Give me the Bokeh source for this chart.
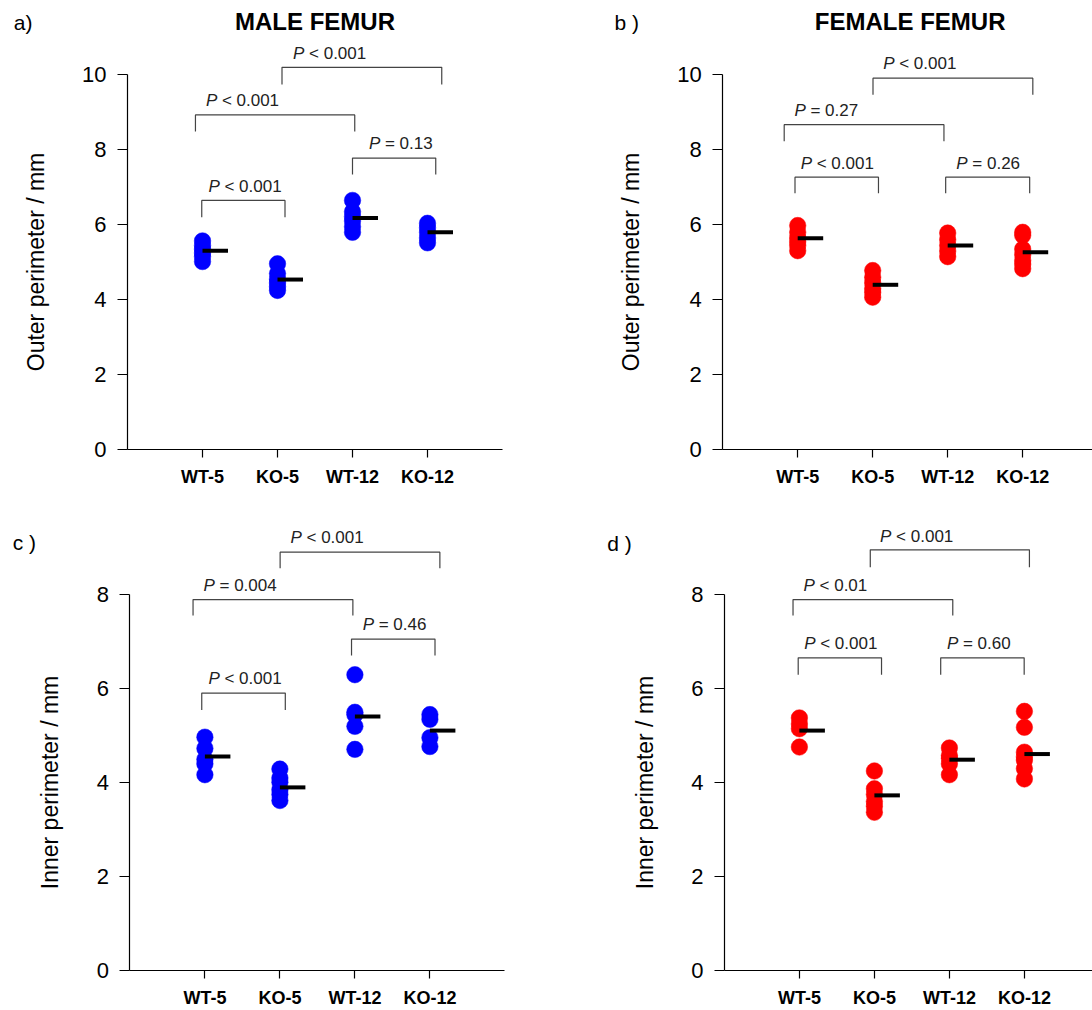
from bokeh.plotting import figure
from bokeh.models import Range1d, FixedTicker
from bokeh.layouts import column, row
from bokeh.core.properties import value
from bokeh.embed import file_html
from bokeh.resources import INLINE

categories = ["WT-5", "KO-5", "WT-12", "KO-12"]
cat_pos = [1, 2, 3, 4]

# ---- a) male femur, outer perimeter (mm)
male_outer_wt5 = [5.02, 5.15, 5.25, 5.35, 5.45, 5.57]
male_outer_ko5 = [4.25, 4.35, 4.45, 4.55, 4.70, 4.96]
male_outer_wt12 = [5.80, 5.95, 6.10, 6.22, 6.35, 6.65]
male_outer_ko12 = [5.52, 5.65, 5.80, 5.92, 6.04]
male_outer_mean = [5.31, 4.54, 6.18, 5.80]

# ---- b) female femur, outer perimeter (mm)
female_outer_wt5 = [5.31, 5.45, 5.55, 5.65, 5.80, 5.98]
female_outer_ko5 = [4.07, 4.20, 4.30, 4.45, 4.60, 4.78]
female_outer_wt12 = [5.15, 5.30, 5.45, 5.60, 5.78]
female_outer_ko12 = [4.83, 4.95, 5.05, 5.20, 5.35, 5.72, 5.80]
female_outer_mean = [5.64, 4.40, 5.45, 5.27]

# ---- c) male femur, inner perimeter (mm)
male_inner_wt5 = [4.17, 4.40, 4.50, 4.73, 4.97]
male_inner_ko5 = [3.62, 3.75, 3.85, 4.01, 4.10, 4.29]
male_inner_wt12 = [4.71, 5.20, 5.45, 5.50, 6.30]
male_inner_ko12 = [4.77, 4.96, 5.35, 5.45]
male_inner_mean = [4.56, 3.90, 5.41, 5.11]

# ---- d) female femur, inner perimeter (mm)
female_inner_wt5 = [4.76, 5.15, 5.25, 5.38]
female_inner_ko5 = [3.37, 3.50, 3.60, 3.75, 3.87, 4.25]
female_inner_wt12 = [4.17, 4.40, 4.52, 4.58, 4.74]
female_inner_ko12 = [4.08, 4.30, 4.48, 4.55, 4.65, 5.18, 5.52]
female_inner_mean = [5.11, 3.73, 4.49, 4.61]

# ---- comparison brackets: (x left, x right, y top, y bottom)
a_brackets = [(2.06, 4.19, 10.20, 9.74), (0.906, 3.03, 8.93, 8.49),
              (3.00, 4.11, 7.78, 7.34), (0.99, 2.10, 6.65, 6.20)]
a_pvalues = ["< 0.001", "< 0.001", "= 0.13", "< 0.001"]
a_ptext_xy = [(2.207, 10.56), (1.045, 9.31), (3.219, 8.16), (1.079, 7.02)]

b_brackets = [(2.004, 4.135, 9.91, 9.47), (0.82, 2.95, 8.67, 8.23),
              (0.964, 2.077, 7.27, 6.84), (2.973, 4.093, 7.27, 6.84)]
b_pvalues = ["< 0.001", "= 0.27", "< 0.001", "= 0.26"]
b_ptext_xy = [(2.14, 10.29), (0.956, 9.05), (1.04, 7.64), (3.115, 7.64)]

c_brackets = [(2.003, 4.133, 8.91, 8.57), (0.842, 2.973, 7.90, 7.56),
              (2.955, 4.068, 7.06, 6.71), (0.958, 2.072, 5.91, 5.55)]
c_pvalues = ["< 0.001", "= 0.004", "= 0.46", "< 0.001"]
c_ptext_xy = [(2.141, 9.22), (0.981, 8.21), (3.103, 7.37), (1.047, 6.21)]

d_brackets = [(1.945, 4.067, 8.96, 8.59), (0.915, 3.045, 7.90, 7.56),
              (0.984, 2.095, 6.66, 6.30), (2.884, 3.997, 6.66, 6.30)]
d_pvalues = ["< 0.001", "< 0.01", "< 0.001", "= 0.60"]
d_ptext_xy = [(2.076, 9.25), (1.055, 8.20), (1.064, 6.97), (2.967, 6.97)]

FONT = "Liberation Sans"
PX_PER_CAT = 75.0


def panel(groups, means, brackets, pvalues, ptext_xy, color, ylabel, yaxis_max,
          yticks, left_px, bottom_px, W, H, px_per_unit, title, title_y,
          tag, tag_xy):
    # the frame covers the whole figure; axes sit at fixed data locations
    x0 = -left_px / PX_PER_CAT
    x1 = (W - left_px) / PX_PER_CAT
    y0 = -(H - bottom_px) / px_per_unit
    y1 = bottom_px / px_per_unit
    p = figure(width=W, height=H,
               x_range=Range1d(x0, x1), y_range=Range1d(y0, y1),
               min_border_left=0, min_border_right=0,
               min_border_top=0, min_border_bottom=0,
               output_backend="svg", toolbar_location=None, title=None)
    p.outline_line_color = None
    p.grid.visible = False
    p.background_fill_color = "white"
    p.border_fill_color = "white"

    # axes
    p.xaxis.fixed_location = 0
    p.yaxis.fixed_location = 0
    p.xaxis.bounds = (0, min(5, x1))
    p.xaxis.ticker = FixedTicker(ticks=cat_pos)
    p.xaxis.major_label_overrides = {c: n for c, n in zip(cat_pos, categories)}
    p.xaxis.major_tick_out = 8
    p.xaxis.major_tick_in = 0
    p.xaxis.minor_tick_out = 0
    p.xaxis.major_label_standoff = 9
    p.xaxis.major_label_text_font = FONT
    p.xaxis.major_label_text_font_size = "18px"
    p.xaxis.major_label_text_font_style = "bold"
    p.xaxis.major_label_text_color = "black"

    p.yaxis.ticker = FixedTicker(ticks=yticks)
    p.yaxis.bounds = (0, yaxis_max)
    p.yaxis.major_tick_out = 10
    p.yaxis.major_tick_in = 0
    p.yaxis.minor_tick_out = 0
    p.yaxis.major_label_standoff = 11
    p.yaxis.major_label_text_font = FONT
    p.yaxis.major_label_text_font_size = "22px"
    p.yaxis.major_label_text_color = "black"
    p.yaxis.axis_label = ylabel
    p.yaxis.axis_label_text_font = FONT
    p.yaxis.axis_label_text_font_size = "23px"
    p.yaxis.axis_label_text_font_style = "normal"
    p.yaxis.axis_label_text_color = "black"
    p.yaxis.axis_label_standoff = 30
    for ax in (p.xaxis, p.yaxis):
        ax.axis_line_color = "black"
        ax.axis_line_width = 1.2
        ax.major_tick_line_color = "black"
        ax.major_tick_line_width = 1.2

    # points
    xs, ys = [], []
    for c, vals in zip(cat_pos, groups):
        xs += [c] * len(vals)
        ys += list(vals)
    p.scatter(xs, ys, marker="circle", size=16.5, fill_color=color,
              line_color=color, line_width=0.5)

    # mean bars
    p.segment(x0=cat_pos, y0=means, x1=[c + 0.34 for c in cat_pos], y1=means,
              line_color="black", line_width=4, line_cap="butt")

    # brackets
    bx = [[b[0], b[0], b[1], b[1]] for b in brackets]
    by = [[b[3], b[2], b[2], b[3]] for b in brackets]
    p.multi_line(bx, by, line_color="#444444", line_width=1.2)

    tx = [t[0] for t in ptext_xy]
    ty = [t[1] for t in ptext_xy]
    p.text(x=tx, y=ty, text=["P"] * len(tx), text_font=value(FONT),
           text_font_style="italic", text_font_size="17px",
           text_align="left", text_baseline="middle", text_color="#222222")
    p.text(x=tx, y=ty, text=pvalues, x_offset=16, text_font=value(FONT),
           text_font_size="17px", text_align="left", text_baseline="middle",
           text_color="#222222")

    # panel title and tag
    if title is not None:
        p.text(x=[2.5], y=[title_y], text=[title], text_font=value(FONT),
               text_font_style="bold", text_font_size="24px",
               text_align="center", text_baseline="middle", text_color="black")
    p.text(x=[tag_xy[0]], y=[tag_xy[1]], text=[tag], text_font=value(FONT),
           text_font_size="21px", text_align="left", text_baseline="middle",
           text_color="black")
    return p


pa = panel([male_outer_wt5, male_outer_ko5, male_outer_wt12, male_outer_ko12],
           male_outer_mean, a_brackets, a_pvalues, a_ptext_xy, "#0000FF",
           "Outer perimeter / mm", 10, [0, 2, 4, 6, 8, 10],
           left_px=127, bottom_px=449.3, W=546, H=505, px_per_unit=37.5,
           title="MALE FEMUR", title_y=11.43, tag="a)", tag_xy=(-1.516, 11.40))
pb = panel([female_outer_wt5, female_outer_ko5, female_outer_wt12, female_outer_ko12],
           female_outer_mean, b_brackets, b_pvalues, b_ptext_xy, "#FF0000",
           "Outer perimeter / mm", 10, [0, 2, 4, 6, 8, 10],
           left_px=176.2, bottom_px=449.3, W=546, H=505, px_per_unit=37.5,
           title="FEMALE FEMUR", title_y=11.43, tag="b )", tag_xy=(-1.443, 11.40))
pc = panel([male_inner_wt5, male_inner_ko5, male_inner_wt12, male_inner_ko12],
           male_inner_mean, c_brackets, c_pvalues, c_ptext_xy, "#0000FF",
           "Inner perimeter / mm", 8, [0, 2, 4, 6, 8],
           left_px=129.4, bottom_px=465, W=546, H=505, px_per_unit=46.95,
           title=None, title_y=0, tag="c )", tag_xy=(-1.563, 9.12))
pd_ = panel([female_inner_wt5, female_inner_ko5, female_inner_wt12, female_inner_ko12],
            female_inner_mean, d_brackets, d_pvalues, d_ptext_xy, "#FF0000",
            "Inner perimeter / mm", 8, [0, 2, 4, 6, 8],
            left_px=177.9, bottom_px=465, W=546, H=505, px_per_unit=46.95,
            title=None, title_y=0, tag="d )", tag_xy=(-1.563, 9.09))

layout = column(row(pa, pb), row(pc, pd_))
open("out.html", "w").write(file_html(layout, INLINE))
